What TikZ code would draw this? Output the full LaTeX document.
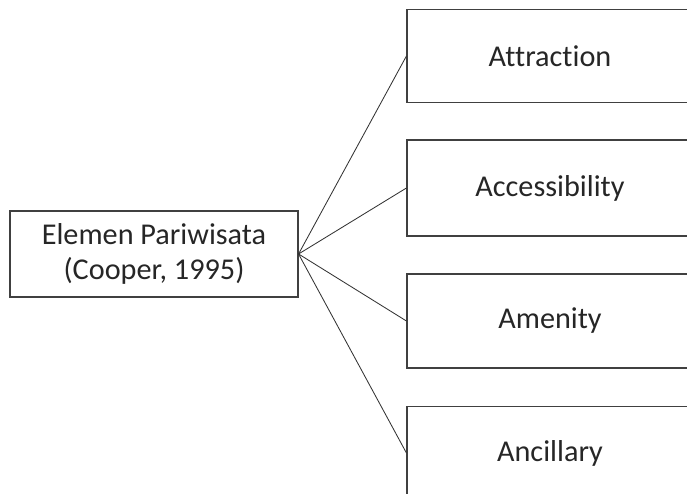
\documentclass[tikz,border=0pt]{standalone}
\usepackage{fontspec}
\setmainfont{Carlito}[Ligatures=NoCommon]
\usepackage{tikz}
\usetikzlibrary{arrows}

\tikzset{
    elemen/.style={draw=black!75,line width=0.8pt,text=black!85,align=center,font=\fontsize{21.5}{25.5}\selectfont,inner sep=0pt},
}

\begin{document}
\begin{tikzpicture}
    \useasboundingbox (0,0) rectangle (17.175,12.325);
    \clip (0,0) rectangle (17.175,12.325);
    \node[elemen,minimum width=7.2cm,minimum height=2.15cm] (pusat) at (3.85,5.975) {Elemen Pariwisata\\(Cooper, 1995)};
    \node[elemen,minimum width=7.15cm,minimum height=2.325cm] (attr) at (13.75,10.925) {Attraction};
    \node[elemen,minimum width=7.15cm,minimum height=2.4cm] (acc) at (13.75,7.625) {Accessibility};
    \node[elemen,minimum width=7.15cm,minimum height=2.35cm] (amen) at (13.75,4.3) {Amenity};
    \node[elemen,minimum width=7.15cm,minimum height=2.325cm] (anc) at (13.75,1.0) {Ancillary};
    \draw[line width=0.6pt,black!80] (pusat.east) -- (attr.west);
    \draw[line width=0.6pt,black!80] (pusat.east) -- (acc.west);
    \draw[line width=0.6pt,black!80] (pusat.east) -- (amen.west);
    \draw[line width=0.6pt,black!80] (pusat.east) -- (anc.west);
\end{tikzpicture}
\end{document}
